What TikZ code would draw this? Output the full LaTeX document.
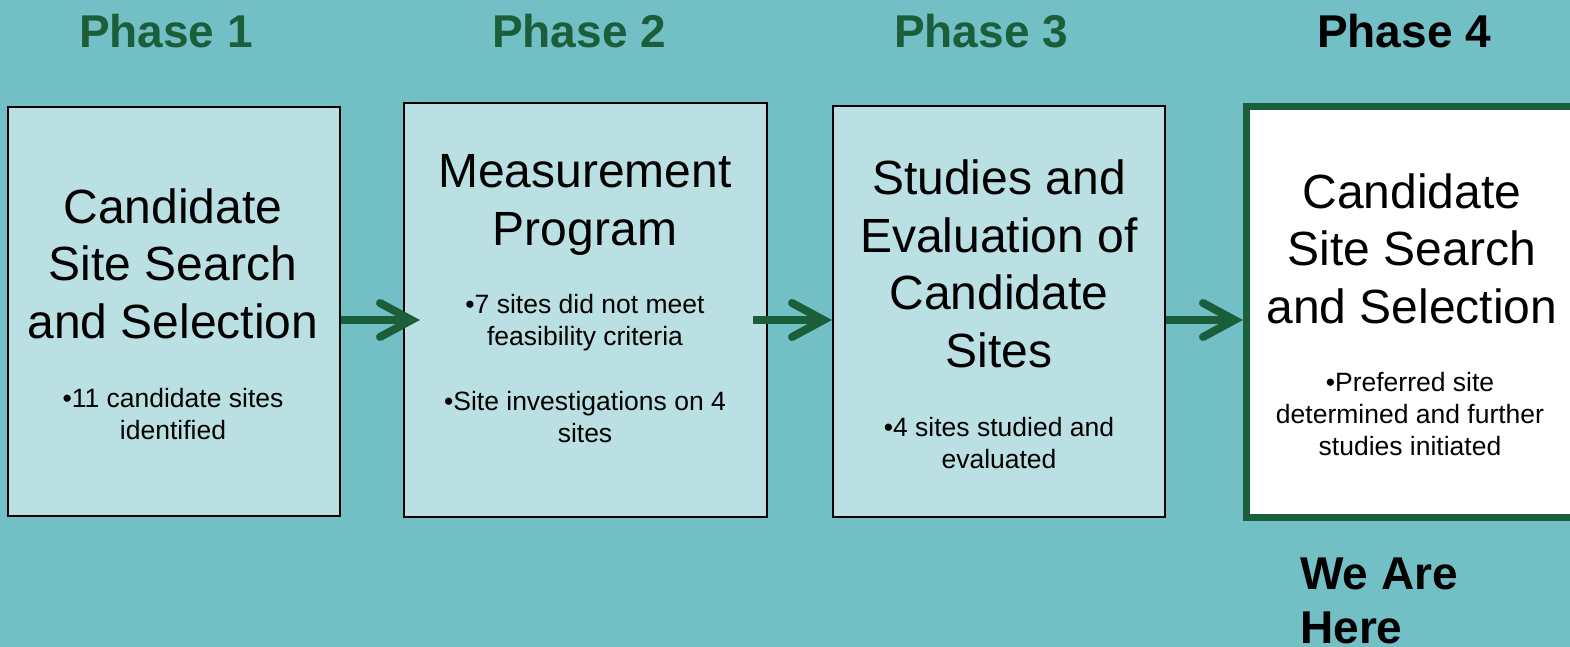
\documentclass[tikz,border=0pt]{standalone}
\usepackage{fontspec}
\setmainfont{Liberation Sans}
\definecolor{bg}{RGB}{114,191,197}
\definecolor{boxfill}{RGB}{187,224,227}
\definecolor{dgreen}{RGB}{27,94,58}
\tikzset{
  phasebox/.style={draw=black, line width=1.5pt, fill=boxfill, rectangle, inner sep=0pt},
  herebox/.style={draw=dgreen, line width=7pt, fill=white, rectangle, inner sep=0pt},
  titletext/.style={align=center, anchor=base, inner sep=0pt, font=\fontsize{48}{57.5}\selectfont},
  smalltext/.style={align=center, anchor=base, inner sep=0pt, font=\fontsize{26.5}{32}\selectfont},
  phaselabel/.style={anchor=base, inner sep=0pt, font=\fontsize{46}{54}\selectfont\bfseries},
  shaft/.style={draw=dgreen, line width=8pt, line cap=butt},
  chev/.style={draw=dgreen, line width=8pt, line cap=round, line join=miter},
}
\begin{document}
\begin{tikzpicture}[x=1pt,y=-1pt]
\path[use as bounding box, fill=bg] (0,0) rectangle (1570,647);

% phase labels
\node[phaselabel, text=dgreen] (p1) at (166,48) {Phase 1};
\node[phaselabel, text=dgreen] (p2) at (579,48) {Phase 2};
\node[phaselabel, text=dgreen] (p3) at (981,48) {Phase 3};
\node[phaselabel, text=black] (p4) at (1404,48) {Phase 4};

% boxes
\node[phasebox, minimum width=332pt, minimum height=409pt] (b1) at (174,311.5) {};
\node[phasebox, minimum width=363pt, minimum height=414pt] (b2) at (585.5,310) {};
\node[phasebox, minimum width=332pt, minimum height=411pt] (b3) at (999,311.5) {};
\node[herebox, minimum width=353pt, minimum height=411pt] (b4) at (1423,312) {};

% box texts (anchor base = baseline of the last line)
\node[titletext] (t1a) at (173,338) {Candidate\\Site Search\\and Selection};
\node[smalltext] (t1b) at (173,439) {•11 candidate sites\\identified};

\node[titletext] (t2a) at (585,245) {Measurement\\Program};
\node[smalltext] (t2b) at (585,442) {•7 sites did not meet\\feasibility criteria\\[33pt]•Site investigations on 4\\sites};

\node[titletext] (t3a) at (999,367) {Studies and\\Evaluation of\\Candidate\\Sites};
\node[smalltext] (t3b) at (999,468) {•4 sites studied and\\evaluated};

\node[titletext] (t4a) at (1412,323) {Candidate\\Site Search\\and Selection};
\node[smalltext] (t4b) at (1410,455) {•Preferred site\\determined and further\\studies initiated};

\node[anchor=base west, align=left, inner sep=0pt, font=\fontsize{46}{54}\selectfont\bfseries] (here) at (1300,643) {We Are\\Here};

% arrows
\coordinate (a1) at (420,320);
\coordinate (a2) at (832,320);
\coordinate (a3) at (1243,320);

\draw[shaft] (b1.east |- a1) -- ([xshift=-9pt]a1);
\draw[chev] ([shift={(-40pt,17pt)}]a1) -- ([xshift=-8.5pt]a1) -- ([shift={(-40pt,-17pt)}]a1);

\draw[shaft] ([xshift=-15pt]b2.east |- a2) -- ([xshift=-9pt]a2);
\draw[chev] ([shift={(-40pt,17pt)}]a2) -- ([xshift=-8.5pt]a2) -- ([shift={(-40pt,-17pt)}]a2);

\draw[shaft] (b3.east |- a3) -- ([xshift=-9pt]a3);
\draw[chev] ([shift={(-40pt,17pt)}]a3) -- ([xshift=-8.5pt]a3) -- ([shift={(-40pt,-17pt)}]a3);
\end{tikzpicture}
\end{document}
